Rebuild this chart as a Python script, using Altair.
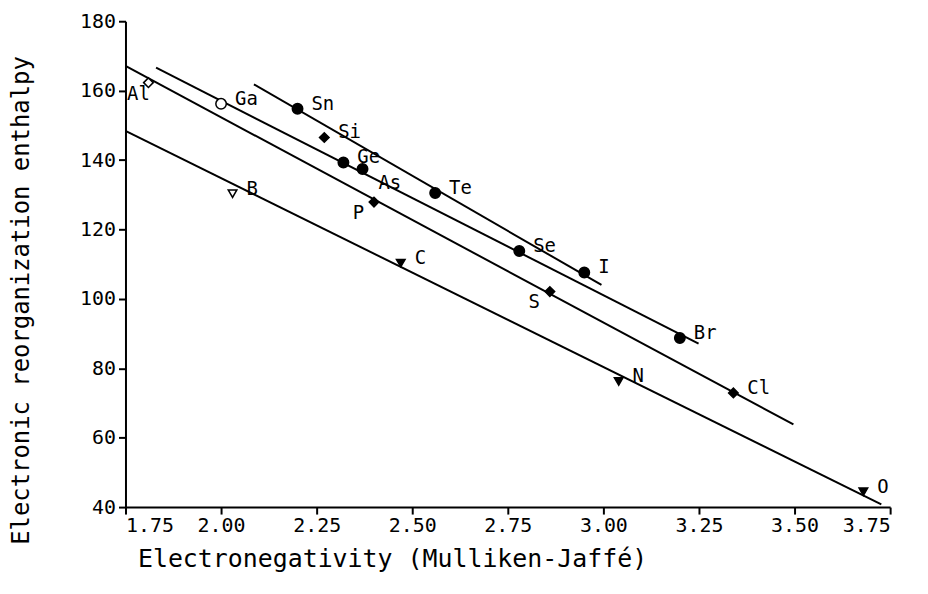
import altair as alt
import pandas as pd

# ---- data ----
elements = ["Al", "Ga", "Sn", "Si", "Ge", "As", "P", "B", "C", "Te", "Se", "I", "S", "Br", "N", "Cl", "O"]
electroneg = [1.81, 2.00, 2.20, 2.27, 2.32, 2.37, 2.40, 2.03, 2.47, 2.56, 2.78, 2.95, 2.86, 3.20, 3.04, 3.34, 3.68]
enthalpy = [162.3, 156.2, 154.8, 146.5, 139.3, 137.4, 127.9, 130.3, 110.3, 130.5, 113.8, 107.6, 102.1, 88.7, 76.2, 72.9, 44.4]
shapes = ["diamond", "circle", "circle", "diamond", "circle", "circle", "diamond", "triangle-down",
          "triangle-down", "circle", "circle", "circle", "diamond", "circle", "triangle-down", "diamond",
          "triangle-down"]
filled = [False, False, True, True, True, True, True, False, True, True, True, True, True, True, True, True, True]
placement = ["al", "r", "r", "r", "r", "rb", "bl", "r", "r", "r", "r", "r", "bl", "r", "r", "r", "r"]

line_group = ["triangles", "diamonds", "circles", "heavy"]
line_x0 = [1.75, 1.75, 1.83, 2.086]
line_x1 = [3.727, 3.497, 3.249, 2.995]
line_y0 = [148.4, 167.1, 166.6, 161.8]
line_y1 = [40.8, 63.8, 87.1, 104.0]

x_ticks = [1.75, 2.00, 2.25, 2.50, 2.75, 3.00, 3.25, 3.50, 3.75]
y_ticks = [40, 60, 80, 100, 120, 140, 160, 180]

pts = pd.DataFrame({
    "el": elements, "x": electroneg, "y": enthalpy, "shape": shapes,
    "fillc": ["black" if f else "white" for f in filled], "place": placement,
})
lines = pd.DataFrame({"g": line_group, "x0": line_x0, "x1": line_x1, "y0": line_y0, "y1": line_y1})

MONO = "DejaVu Sans Mono"

xscale = alt.Scale(domain=[1.75, 3.75], nice=False, zero=False)
yscale = alt.Scale(domain=[40, 180], nice=False, zero=False)

xaxis = alt.Axis(values=x_ticks, format=".2f", title="Electronegativity (Mulliken-Jaffé)",
                 titleAnchor="start", titleX=12, titleY=52, titleBaseline="middle", titleAlign="left",
                 titleFont=MONO, titleFontSize=25, titleFontWeight="normal", titleColor="black",
                 labelPadding=2)
yaxis = alt.Axis(values=y_ticks, format="d", title="Electronic reorganization enthalpy",
                 titleAngle=270, titleX=-104, titleY=280, titleAlign="center", titleBaseline="middle",
                 titleFont=MONO, titleFontSize=24, titleFontWeight="normal", titleColor="black",
                 labelPadding=3)

rules = alt.Chart(lines).mark_rule(color="black", strokeWidth=2).encode(
    x=alt.X("x0:Q", scale=xscale, axis=xaxis),
    x2="x1:Q",
    y=alt.Y("y0:Q", scale=yscale, axis=yaxis),
    y2="y1:Q",
)

points = alt.Chart(pts).mark_point(filled=True, stroke="black", strokeWidth=1.5, opacity=1).encode(
    x=alt.X("x:Q", scale=xscale),
    y=alt.Y("y:Q", scale=yscale),
    shape=alt.Shape("shape:N", scale=None),
    fill=alt.Fill("fillc:N", scale=None),
    size=alt.Size("shape:N", scale=alt.Scale(domain=["circle", "diamond", "triangle-down"],
                                             range=[110, 75, 90]), legend=None),
)

def labels(place, **kw):
    return alt.Chart(pts).transform_filter(alt.datum.place == place).mark_text(
        font=MONO, fontSize=19, color="black", baseline="middle", **kw
    ).encode(x=alt.X("x:Q", scale=xscale), y=alt.Y("y:Q", scale=yscale), text="el:N")

chart = alt.layer(
    rules, points,
    labels("r", align="left", dx=14, dy=-5),
    labels("rb", align="left", dx=16, dy=14),
    labels("bl", align="right", dx=-10, dy=11),
    labels("al", align="center", dx=-10, dy=11),
).properties(
    width=768, height=488,
    autosize=alt.AutoSizeParams(type="none"),
    padding={"left": 118, "top": 12, "right": 30, "bottom": 84},
).configure_view(stroke=None).configure_axis(
    grid=False, domainColor="black", domainWidth=2, tickColor="black", tickWidth=2, tickSize=7,
    labelFont=MONO, labelFontSize=20, labelColor="black",
)

chart.save("out.html", embed_options={"renderer": "svg", "actions": False})
